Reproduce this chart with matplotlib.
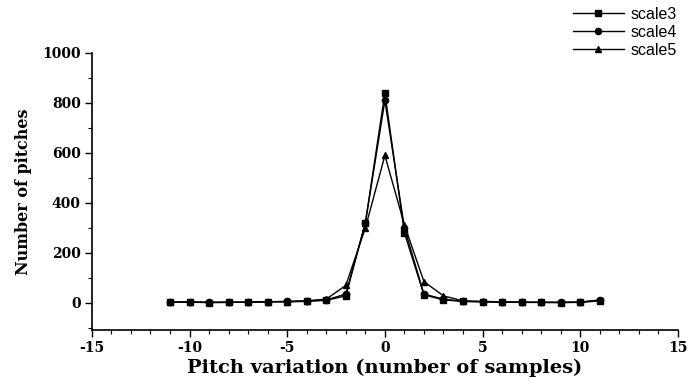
import numpy as np
import matplotlib.pyplot as plt
from matplotlib.ticker import MultipleLocator

plt.rcParams['axes.unicode_minus'] = False

# === DATA ===
pitch_shift = list(range(-11, 12))
scale3 = [2, 3, 1, 2, 3, 5, 4, 6, 10, 28, 320, 840, 280, 32, 12, 6, 5, 3, 2, 2, 1, 2, 8]
scale4 = [3, 4, 2, 3, 2, 4, 6, 8, 12, 35, 320, 810, 300, 35, 15, 6, 4, 3, 2, 2, 2, 3, 10]
scale5 = [2, 3, 2, 2, 3, 5, 5, 8, 15, 70, 300, 590, 312, 85, 28, 8, 6, 4, 3, 2, 2, 3, 12]

series = [("scale3", scale3, "s"), ("scale4", scale4, "o"), ("scale5", scale5, "^")]

fig = plt.figure(figsize=(6.91, 3.84), dpi=100, facecolor="white")
ax = fig.add_axes([0.133, 0.141, 0.848, 0.721])

for name, vals, mk in series:
    ax.plot(pitch_shift, vals, color="black", linewidth=1.0, marker=mk,
            markersize=4.5, label=name)

ax.set_xlim(-15, 15)
ax.set_ylim(-108, 1000)
ax.xaxis.set_major_locator(MultipleLocator(5))
ax.xaxis.set_minor_locator(MultipleLocator(1))
ax.yaxis.set_major_locator(MultipleLocator(200))
ax.yaxis.set_minor_locator(MultipleLocator(100))

for side in ("top", "right"):
    ax.spines[side].set_visible(False)
for side in ("left", "bottom"):
    ax.spines[side].set_linewidth(1.2)

ax.tick_params(which="major", length=5, width=1, direction="out", pad=3)
ax.tick_params(which="minor", length=3, width=0.8, direction="out")

for lab in ax.get_xticklabels() + ax.get_yticklabels():
    lab.set_fontfamily("DejaVu Serif")
    lab.set_fontweight("bold")
    lab.set_fontsize(10)

ax.set_xlabel("Pitch variation (number of samples)", fontfamily="DejaVu Serif",
              fontweight="bold", fontsize=14, labelpad=3)
ax.set_ylabel("Number of pitches", fontfamily="DejaVu Serif",
              fontweight="bold", fontsize=11.5, labelpad=7)

leg = fig.legend(loc="upper right", bbox_to_anchor=(1.0, 1.02), frameon=False,
                 prop=dict(family="Liberation Sans", size=11.5),
                 handlelength=3.2, handletextpad=0.4, labelspacing=0.2)

fig.savefig("out.png", dpi=100)
